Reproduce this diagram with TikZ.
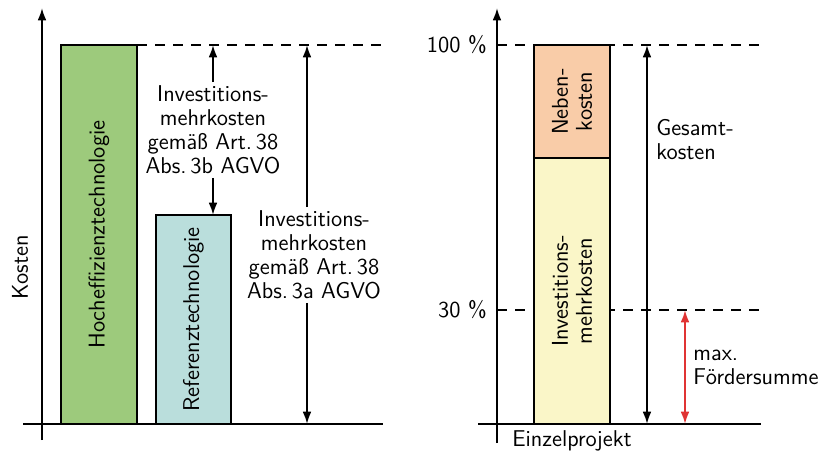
\documentclass[tikz,border=0pt]{standalone}
\usepackage[rgb]{xcolor}
\usepackage{tikz}
\usetikzlibrary{arrows.meta}
\tikzset{>={Latex[length=7pt,width=5pt]}}
\definecolor{hgreen}{RGB}{157,202,124}
\definecolor{rblue}{RGB}{186,222,220}
\definecolor{norange}{RGB}{249,204,168}
\definecolor{iyellow}{RGB}{250,246,200}
\definecolor{fred}{RGB}{224,52,52}

\begin{document}
\begin{tikzpicture}[x=0.2mm,y=0.2mm,
    font=\sffamily\fontsize{13}{13.6}\selectfont,
    axis/.style={line width=1.1pt,->},
    bar/.style={draw,line width=1.4pt,anchor=south west,inner sep=0pt,outer sep=0pt},
    guide/.style={line width=1.1pt,dash pattern=on 2mm off 1.6mm},
    dim/.style={line width=1.1pt,<->},
    txt/.style={align=center,inner sep=2pt}]

  \useasboundingbox (0,0) rectangle (821,452);

  % left chart
  \draw[guide] (137,407) -- (383,407);
  \node[bar,fill=hgreen,minimum width=15.2mm,minimum height=75.8mm] (hoch) at (61,28) {};
  \node[bar,fill=rblue,minimum width=15mm,minimum height=41.8mm] (ref) at (156,28) {};
  \node[rotate=90] (hochtxt) at (hoch.center) {Hocheffizienztechnologie};
  \node[rotate=90] (reftxt) at (ref.center) {Referenztechnologie};
  \draw[axis] (42,12) -- (42,444);
  \draw[line width=1.1pt] (23,28) -- (383,28);
  \node[rotate=90] (kosten) at (20,185) {Kosten};

  \node[txt] (t3b) at (213,322) {Investitions-\\mehrkosten\\gemäß Art.\,38\\Abs.\,3b AGVO};
  \draw[line width=1.1pt,->] (t3b.north) -- (t3b.north |- hoch.north);
  \draw[line width=1.1pt,->] (t3b.south) -- (t3b.south |- ref.north);

  \coordinate (atop) at (307,407);
  \coordinate (abot) at (307,28);
  \node[txt] (t3a) at (314,197) {Investitions-\\mehrkosten\\gemäß Art.\,38\\Abs.\,3a AGVO};
  \draw[line width=1.1pt,->] (t3a.north -| atop) -- (atop);
  \draw[line width=1.1pt,->] (t3a.south -| abot) -- (abot);

  % right chart
  \draw[guide] (497,407) -- (761,407);
  \draw[guide] (497,142) -- (761,142);
  \node[bar,fill=iyellow,minimum width=15.2mm,minimum height=53.2mm] (inv) at (534,28) {};
  \node[bar,fill=norange,minimum width=15.2mm,minimum height=22.6mm] (neben) at (inv.north west) {};
  \node[rotate=90,align=center] (invtxt) at (inv.center) {Investitions-\\mehrkosten};
  \node[rotate=90,align=center] (nebentxt) at (neben.center) {Neben-\\kosten};
  \draw[axis] (497,9) -- (497,444);
  \draw[line width=1.1pt] (478,28) -- (761,28);

  \node[anchor=east,inner sep=0pt] (p100) at (487,407) {100 \%};
  \node[anchor=east,inner sep=0pt] (p30) at (487,142) {30 \%};
  \node (einzel) at (572,11) {Einzelprojekt};

  \coordinate (gtop) at (647,407);
  \coordinate (gbot) at (647,28);
  \draw[dim] (gtop) -- (gbot);
  \node[anchor=west,align=left,inner sep=0pt] (gesamt) at (656,312) {Gesamt-\\kosten};

  \coordinate (ftop) at (685,142);
  \coordinate (fbot) at (685,28);
  \draw[dim,fred] (ftop) -- (fbot);
  \node[anchor=west,align=left,inner sep=0pt] (foerder) at (693,85) {max.\\Fördersumme};

\end{tikzpicture}
\end{document}
